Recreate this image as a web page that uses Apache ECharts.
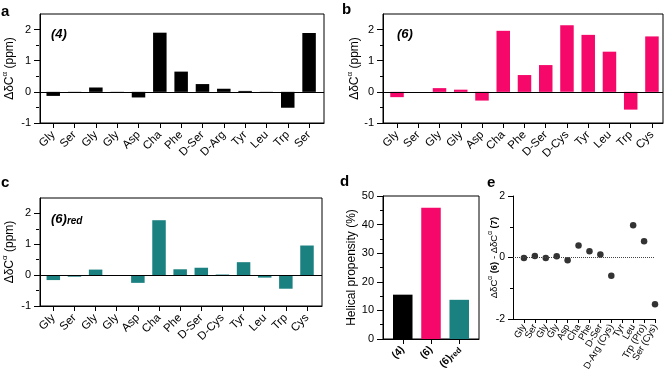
<!DOCTYPE html>
<html><head><meta charset="utf-8">
<script src="https://cdn.jsdelivr.net/npm/echarts@6/dist/echarts.min.js"></script>
<style>html,body{margin:0;padding:0;background:#fff}#c{width:668px;height:380px}</style>
</head><body><div id="c"></div>
<script>
// ---- data ----
const resA = ['Gly','Ser','Gly','Gly','Asp','Cha','Phe','D-Ser','D-Arg','Tyr','Leu','Trp','Ser'];
const valsA = [-0.13,-0.01,0.14,-0.02,-0.18,1.90,0.65,0.25,0.10,0.03,-0.02,-0.51,1.89];
const resB = ['Gly','Ser','Gly','Gly','Asp','Cha','Phe','D-Ser','D-Cys','Tyr','Leu','Trp','Cys'];
const valsB = [-0.17,0,0.12,0.07,-0.28,1.96,0.54,0.86,2.14,1.83,1.29,-0.57,1.78];
const resC = ['Gly','Ser','Gly','Gly','Asp','Cha','Phe','D-Ser','D-Cys','Tyr','Leu','Trp','Cys'];
const valsC = [-0.16,-0.05,0.18,0,-0.25,1.78,0.19,0.24,0.02,0.42,-0.08,-0.44,0.96];
const peptidesD = ['(4)','(6)','(6)red'];
const helixD = [15.5,45.9,13.7];
const resE = ['Gly','Ser','Gly','Gly','Asp','Cha','Phe','D-Ser','D-Arg (Cys)','Tyr','Leu','Trp (Pro)','Ser (Cys)'];
const diffE = [-0.02,0.05,-0.02,0.04,-0.09,0.39,0.20,0.10,-0.59,null,1.05,0.53,-1.52];
const yTicksABC = [-1,0,1,2];
const yMinorABC = [-0.5,0.5,1.5];

// ---- styles ----
const F = "'Liberation Sans', Arial, sans-serif";
const BLACK = '#000000', PINK = '#F5086A', TEAL = '#1B8080';
const colorsD = [BLACK, PINK, TEAL];
const idx = n => Array.from({length:n},(_,i)=>i);

const yNameRich = {
  a:{fontSize:12,fontFamily:F,color:'#000',lineHeight:17},
  s:{fontSize:8,fontFamily:F,color:'#000',verticalAlign:'top',lineHeight:9}
};
const yNameRichE = {
  a:{fontSize:9.5,fontFamily:F,color:'#000',lineHeight:14},
  b:{fontSize:9.5,fontFamily:F,color:'#000',fontWeight:'bold',lineHeight:14},
  s:{fontSize:6.5,fontFamily:F,color:'#000',verticalAlign:'top',lineHeight:7}
};

const G = [
  {left:39, top:14, width:285, height:109},
  {left:383, top:14, width:280, height:109},
  {left:39, top:198, width:283, height:108},
  {left:383, top:196, width:96, height:143},
  {left:513, top:196, width:142, height:123}
];
// grids 0-4: panels; grids 5-7: overlays of panels a-c that carry only the minor y ticks
const grids = G.map((g,i)=>Object.assign({show:i<4, borderColor:'#000', borderWidth:1, backgroundColor:'transparent'}, g))
  .concat([0,1,2].map(i=>Object.assign({show:false}, G[i])));

const axisLine = {show:true, onZero:false, lineStyle:{color:'#000', width:1}};

function xBar(gi, names, min, max){
  return {type:'value', gridIndex:gi, min:min, max:max,
    axisLine:axisLine, splitLine:{show:false},
    axisTick:{show:true, customValues:idx(names.length), length:5, lineStyle:{color:'#000'}},
    axisLabel:{show:true, customValues:idx(names.length), formatter:v=>names[Math.round(v)],
      showMinLabel:true, showMaxLabel:true,
      rotate:45, fontSize:11.5, fontFamily:F, color:'#000', margin:10}};
}
function yBarMajor(gi, gap){
  return {type:'value', gridIndex:gi, min:-1, max:2.5, position:'left',
    axisLine:axisLine, splitLine:{show:false},
    axisTick:{show:true, customValues:yTicksABC, length:6, lineStyle:{color:'#000'}},
    axisLabel:{show:true, customValues:yTicksABC, fontSize:11, fontFamily:F, color:'#000', margin:9},
    name:'{a|ΔδC}{s|α}{a| (ppm)}', nameLocation:'middle', nameGap:gap, nameRotate:90,
    nameTextStyle:{rich:yNameRich}};
}
function yBarMinor(gi){
  return {type:'value', gridIndex:gi, min:-1, max:2.5, position:'left',
    axisLine:{show:false}, splitLine:{show:false}, axisLabel:{show:false},
    axisTick:{show:true, customValues:yMinorABC, length:3, lineStyle:{color:'#000', width:1}}};
}
function xHidden(gi){
  return {type:'value', gridIndex:gi, min:0, max:1, show:false};
}
const zeroLine = {silent:true, symbol:'none', animation:false, label:{show:false},
  lineStyle:{color:'#000', width:1, type:'solid'}, data:[{yAxis:0}]};

function barSeries(xi, yi, vals, color){
  return {type:'bar', xAxisIndex:xi, yAxisIndex:yi, barWidth:13.5,
    data: vals.map((v,i)=>[i,v]), itemStyle:{color:color}, markLine:zeroLine, animation:false};
}

// panel e uses a category axis with one leading empty slot so the first residue sits off the y axis
const catsE = [''].concat(resE);

const xAxes = [
  xBar(0, resA, -0.62, 12.7),
  xBar(1, resB, -0.66, 12.52),
  xBar(2, resC, -0.63, 12.71),
  {type:'value', gridIndex:3, min:-0.7, max:2.7, axisLine:axisLine, splitLine:{show:false},
    axisTick:{show:true, customValues:[0,1,2], length:5, lineStyle:{color:'#000'}},
    axisLabel:{show:true, customValues:[0,1,2], formatter:v=>peptidesD[Math.round(v)].replace('red','{sub|red}'),
      showMinLabel:true, showMaxLabel:true,
      rotate:45, fontSize:10.5, fontWeight:'bold', fontFamily:F, color:'#000', margin:9,
      rich:{sub:{fontSize:8, fontWeight:'bold', fontFamily:F, verticalAlign:'bottom', lineHeight:8}}}},
  {type:'category', gridIndex:4, data:catsE, boundaryGap:false, axisLine:axisLine, splitLine:{show:false},
    axisTick:{show:true, interval:(i)=>i>0, length:4, lineStyle:{color:'#000'}},
    axisLabel:{show:true, interval:0, hideOverlap:false,
      rotate:60, fontSize:9.5, fontFamily:F, color:'#000', margin:6}},
  xHidden(5), xHidden(6), xHidden(7)
];

const yAxes = [
  yBarMajor(0, 22),
  yBarMajor(1, 20),
  yBarMajor(2, 22),
  {type:'value', gridIndex:3, min:0, max:50, interval:10, axisLine:axisLine, splitLine:{show:false},
    axisTick:{show:true, length:6, lineStyle:{color:'#000'}},
    minorTick:{show:true, splitNumber:2, length:3, lineStyle:{color:'#000'}},
    axisLabel:{fontSize:11, fontFamily:F, color:'#000', margin:9},
    name:'Helical propensity (%)', nameLocation:'middle', nameGap:24,
    nameTextStyle:{fontSize:12, fontFamily:F, color:'#000'}},
  {type:'value', gridIndex:4, min:-2, max:2, interval:2, axisLine:axisLine, splitLine:{show:false},
    axisTick:{show:true, length:5, lineStyle:{color:'#000'}},
    minorTick:{show:true, splitNumber:2, length:3, lineStyle:{color:'#000'}},
    axisLabel:{fontSize:10.5, fontFamily:F, color:'#000', margin:8},
    name:'{a|ΔδC}{s|α}{b| (6)}{a| - ΔδC}{s|α}{b| (7)}', nameLocation:'middle', nameGap:12,
    nameMoveOverlap:false,
    nameTextStyle:{rich:yNameRichE}},
  yBarMinor(5), yBarMinor(6), yBarMinor(7)
];

const series = [
  barSeries(0, 0, valsA, BLACK),
  barSeries(1, 1, valsB, PINK),
  barSeries(2, 2, valsC, TEAL),
  {type:'bar', xAxisIndex:3, yAxisIndex:3, barWidth:19.5, animation:false,
    data: helixD.map((v,i)=>({value:[i,v], itemStyle:{color:colorsD[i]}}))},
  {type:'scatter', xAxisIndex:4, yAxisIndex:4, symbolSize:6.5, animation:false,
    itemStyle:{color:'#000'},
    data: diffE.map((v,i)=>[i+1,v]).filter(d=>d[1]!==null),
    markLine:{silent:true, symbol:'none', animation:false, label:{show:false},
      lineStyle:{color:'#444', width:1, type:'dotted'}, data:[{yAxis:0}]}}
];

function t(text, left, top, size, style, rich){
  return {text:text, left:left, top:top, padding:0,
    textStyle:{fontSize:size, fontWeight:'bold', fontStyle:style||'normal', fontFamily:F, color:'#000', rich:rich}};
}
const titles = [
  t('a', 1, 4, 15), t('b', 342, 2, 15), t('c', 1, 175, 15), t('d', 340, 174, 15), t('e', 487, 175, 15),
  t('(4)', 51, 28, 13, 'italic'),
  t('(6)', 397, 28, 13, 'italic'),
  t('(6){sub|red}', 51, 213, 13, 'italic', {sub:{fontSize:10, fontWeight:'bold', fontStyle:'italic', fontFamily:F, color:'#000', verticalAlign:'bottom', lineHeight:10}})
];

const chart = echarts.init(document.getElementById('c'), null, {renderer:'canvas'});
chart.setOption({
  animation:false, backgroundColor:'#fff',
  title:titles, grid:grids, xAxis:xAxes, yAxis:yAxes, series:series
});
</script></body></html>
